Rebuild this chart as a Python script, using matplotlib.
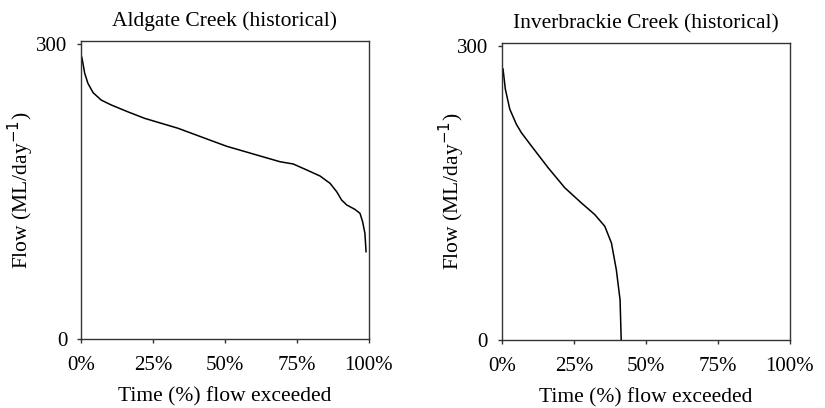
import matplotlib
matplotlib.use('Agg')
import matplotlib.pyplot as plt
from matplotlib.ticker import FuncFormatter

# Flow duration curves (percent exceeded, ML/day)
aldgate_pct = [0, 0.35, 1.3, 2.4, 4.2, 7.0, 10.5, 16.3, 22.1, 33.7, 44.1,
               50.6, 60, 69.1, 73.7, 78.4, 83, 86.5, 88.8, 90.5, 92.3, 95.1,
               96.9, 97.8, 98.6, 99.0]
aldgate_flow = [289, 285.5, 270, 260, 250.5, 243, 238, 231, 224.4, 214.3,
                203, 196, 188, 180.3, 178, 171.9, 165.8, 158.3, 149.8, 141.4,
                136.3, 131.9, 127.8, 119.3, 107.5, 88.8]

inver_pct = [0.35, 1.15, 2.7, 5.0, 6.7, 10.2, 16, 21.8, 27.5, 32.2, 35.7,
             38.0, 39.7, 41.0, 41.4]
inver_flow = [276.5, 256, 235.5, 220, 211.6, 198, 175.8, 155.3, 140, 128,
              116, 99, 71.7, 41, 0]

titles = ["Aldgate Creek (historical)", "Inverbrackie Creek (historical)"]
x_ticks = [0, 25, 50, 75, 100]
y_ticks = [0, 300]

plt.rcParams['font.family'] = ['Liberation Serif', 'DejaVu Serif']

fmt_pct = lambda x, _: "{:.0f}%".format(x)

fig = plt.figure(figsize=(8.25, 4.08), dpi=100)
ax1 = fig.add_axes([0.0982, 0.169, 0.349, 0.7304])
ax2 = fig.add_axes([0.6085, 0.1667, 0.349, 0.7279])

series = [(aldgate_pct, aldgate_flow), (inver_pct, inver_flow)]
# y label anchor, in axes fraction
ylabel_x = [-0.156, -0.122]
for ax, (xs, ys), title, lx in zip((ax1, ax2), series, titles, ylabel_x):
    ax.plot(xs, ys, color='black', linewidth=1.1)
    ax.set_xlim(0, 100)
    ax.set_ylim(0, 303)
    ax.set_xticks(x_ticks)
    ax.set_yticks(y_ticks)
    ax.xaxis.set_major_formatter(FuncFormatter(fmt_pct))
    ax.tick_params(direction='out', length=3, width=1, labelsize=15,
                   color='#333333', pad=7)
    ax.tick_params(axis='x', pad=9)
    for s in ax.spines.values():
        s.set_linewidth(1)
        s.set_color('#333333')
    ax.set_title(title, fontsize=15.5, pad=10.5)
    ax.set_xlabel("Time (%) flow exceeded", fontsize=15.5, labelpad=9)
    ax.set_ylabel("Flow (ML/day$^{-1}$)", fontsize=15.5)
    ax.yaxis.set_label_coords(lx, 0.5)

fig.savefig('out.png', dpi=100)
